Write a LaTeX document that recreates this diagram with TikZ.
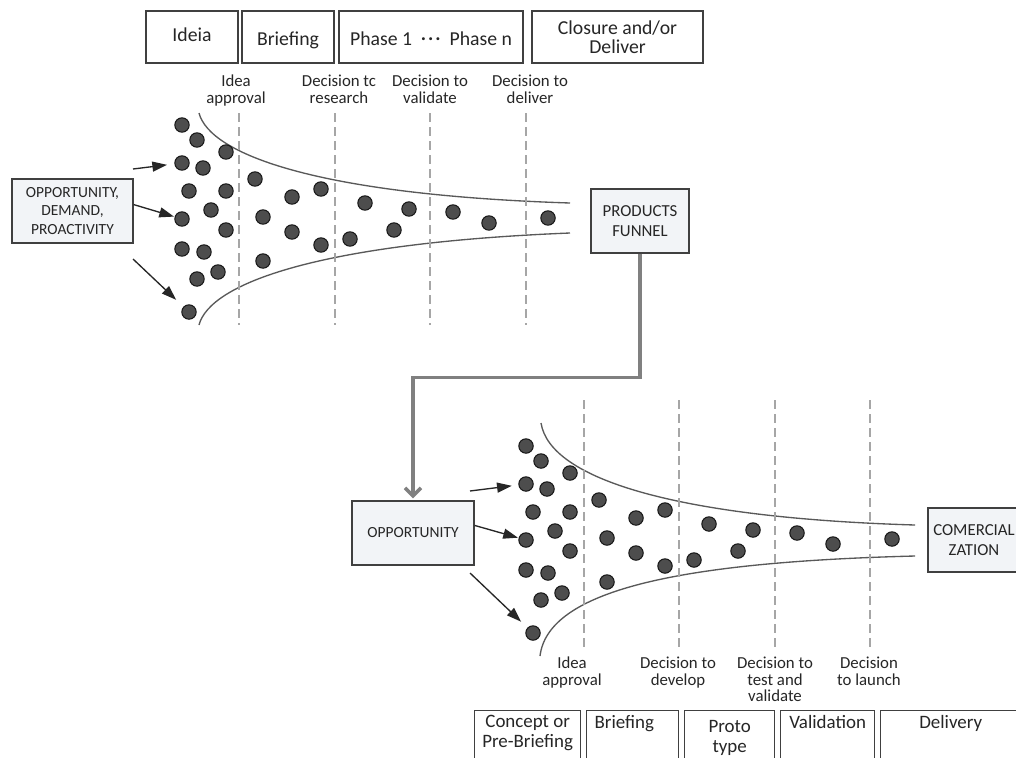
\documentclass[tikz,border=0pt]{standalone}
\usepackage{fontspec}
\setmainfont{Carlito}
\usetikzlibrary{arrows.meta}
\definecolor{txt}{RGB}{38,38,38}
\definecolor{boxline}{RGB}{64,64,64}
\definecolor{boxfill}{RGB}{242,244,247}
\definecolor{dotfill}{RGB}{77,77,77}
\definecolor{funnelgray}{RGB}{89,89,89}
\definecolor{dashgray}{RGB}{166,166,166}
\definecolor{conngray}{RGB}{128,128,128}
\tikzset{
  phasebox/.style={draw=boxline, line width=1pt, fill=white, inner sep=0pt, text=txt, align=center, font=\fontsize{14.8}{14.25}\selectfont},
  infobox/.style={draw=boxline, line width=1pt, fill=boxfill, inner sep=0pt, text=txt, align=center, minimum height=48pt},
  lab/.style={inner sep=0pt, anchor=north, align=center, text=txt, font=\fontsize{12.6}{12.4}\selectfont},
  stagebox/.style={draw=boxline, line width=1pt, fill=white, anchor=north west, inner xsep=0pt, inner ysep=3.5pt, text=txt, font=\fontsize{14.2}{15}\selectfont},
  dot/.style={circle, draw=black!90, line width=0.8pt, fill=dotfill, minimum size=10.8pt, inner sep=0pt},
  funline/.style={draw=funnelgray, line width=1pt},
  vdash/.style={draw=dashgray, line width=1.1pt, dash pattern=on 6.5pt off 4pt},
  arr/.style={draw=txt, line width=1pt, -{Triangle[length=11pt,width=7.5pt]}},
  conn/.style={draw=conngray, line width=2.6pt, -{Straight Barb[length=6pt,width=12pt]}, shorten >=1.5pt}
}
\begin{document}
\begin{tikzpicture}[x=0.75pt,y=-0.75pt]
\useasboundingbox (0,0) rectangle (1016,757);
\fill[white] (0,0) rectangle (1016,757);
\clip (0,0) rectangle (1016,757);

% top phase boxes
\node[phasebox, minimum width=69pt, minimum height=39pt, text height=9pt, text depth=3pt] (ideia) at (192,37) {Ideia};
\node[phasebox, minimum width=69pt, minimum height=39pt, text height=12pt, text depth=0pt] (brief) at (288,37) {Briefing};
\node[phasebox, minimum width=138pt, minimum height=39pt, text height=12pt, text depth=0pt] (phase) at (431,37) {Phase 1\hspace{0.45em}\textbf{\raisebox{0.22em}{.\kern0.1em.\kern0.1em.}}\hspace{0.45em}Phase n};
\node[phasebox, minimum width=128.25pt, minimum height=39pt] (closure) at (617.5,37) {Closure and/or\\Deliver};

% top gate labels
\node[lab] (g1) at (236,75) {Idea\\approval};
\node[lab] (g2) at (339,75) {Decision tc\\research};
\node[lab] (g3) at (430,75) {Decision to\\validate};
\node[lab] (g4) at (530,75) {Decision to\\deliver};

% top funnel
\draw[funline] (199,113) .. controls (210,155) and (320,195) .. (570,203);
\draw[funline] (199,325) .. controls (210,283) and (320,243) .. (570,233);
\foreach \x in {239,335,430,526} \draw[vdash] (\x,113) -- (\x,325);

% bottom funnel
\draw[funline] (541,423) .. controls (550,480) and (680,518) .. (915,525);
\draw[funline] (540,656) .. controls (548,590) and (680,562) .. (915,556);
\foreach \x in {584,679,775,870} \draw[vdash] (\x,400) -- (\x,647);

% dots
\foreach \n/\x/\y in {1/182/125, 2/197/140, 3/226/152, 4/182/163, 5/203/168,
  6/189/191, 7/226/191, 8/255/179, 9/292/197, 10/321/189, 11/211/210,
  12/182/219, 13/263/217, 14/226/230, 15/292/232, 16/321/245, 17/350/239,
  18/182/249, 19/204/252, 20/263/261, 21/218/272, 22/197/279, 23/189/312,
  24/365/203, 25/409/209, 26/394/230, 27/453/212, 28/489/223, 29/548/218}
{
  \node[dot] (t\n) at (\x,\y) {};
  \node[dot] (b\n) at (\x+344,\y+321) {};
}

% info boxes
\node[infobox, minimum width=90.75pt, font=\fontsize{11.6}{13.9}\selectfont] (opp) at (72.5,211) {OPPORTUNITY,\\DEMAND,\\PROACTIVITY};
\node[infobox, minimum width=73.5pt, font=\fontsize{12.6}{15}\selectfont] (pf) at (640,221) {PRODUCTS\\FUNNEL};
\node[infobox, minimum width=91.5pt, font=\fontsize{11.6}{13.9}\selectfont] (opp2) at (413,533) {OPPORTUNITY};
\node[infobox, minimum width=69pt, font=\fontsize{12.6}{15}\selectfont] (com) at (974,540) {COMERCIAL\\ZATION};

% black arrows (top)
\coordinate (ta1) at (133,169);
\coordinate (ta3) at (133,259);
\draw[arr, shorten >=5.5pt] (ta1) -- (t4);
\draw[arr, shorten >=0.5pt] (opp.6.6) -- (t12);
\draw[arr, shorten >=7.5pt] (ta3) -- (t23);

% black arrows (bottom)
\coordinate (ba1) at (470,491);
\coordinate (ba3) at (470,573);
\draw[arr, shorten >=5pt] (ba1) -- (b4);
\draw[arr, shorten >=0.5pt] (opp2.7.5) -- (b12);
\draw[arr, shorten >=6.5pt] (ba3) -- (b23);

% gray connector
\draw[conn] (pf.south) -- ++(0,124) -| (opp2.north);

% bottom gate labels
\node[lab] (h1) at (572,657) {Idea\\approval};
\node[lab] (h2) at (678,657) {Decision to\\develop};
\node[lab] (h3) at (775,657) {Decision to\\test and\\validate};
\node[lab] (h4) at (869,657) {Decision\\to launch};

% bottom stage boxes
\node[stagebox] (s1) at (474,710) {\parbox[t][50pt][t]{79.5pt}{\centering Concept or\\Pre-Briefing}};
\node[stagebox] (s2) at (586,710) {\parbox[t][50pt][t]{69pt}{\hspace*{6pt}Briefing}};
\node[stagebox] (s3) at (684,710) {\parbox[t][50pt][t]{67.5pt}{\centering\rule{0pt}{12.5pt}Proto\\type}};
\node[stagebox] (s4) at (780,710) {\parbox[t][50pt][t]{70.5pt}{\centering Validation}};
\node[stagebox] (s5) at (880,710) {\parbox[t][50pt][t]{105pt}{\centering Delivery}};
\end{tikzpicture}
\end{document}
